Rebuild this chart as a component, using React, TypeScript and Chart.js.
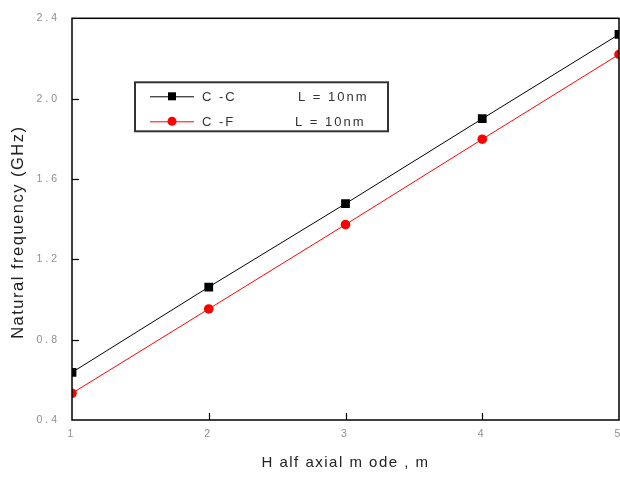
import React, { useEffect, useRef } from "react";
import { Chart, registerables } from "chart.js";

Chart.register(...registerables);

const modes = [1, 2, 3, 4, 5];
const ccFreq = [0.637, 1.062, 1.477, 1.9, 2.32];
const cfFreq = [0.533, 0.953, 1.373, 1.798, 2.22];
const seriesNames = ["C -C", "C -F"];
const lengthLabels = ["L = 10nm", "L = 10nm"];
const seriesColors = ["#000000", "#ff0000"];
const xTitle = "H alf axial m ode , m";
const yTitle = "Natural frequency (GHz)";
const yMin = 0.4;
const yMax = 2.4;
const yStep = 0.4;
const xMin = 1;
const xMax = 5;

const FONT = "'Liberation Sans', Arial, sans-serif";

const framePlugin = {
  id: "frame",
  beforeDraw(chart: any) {
    chart.ctx.letterSpacing = "3px";
  },
  afterDraw(chart: any) {
    const ctx = chart.ctx;
    const a = chart.chartArea;
    const xs = chart.scales.x;
    const ys = chart.scales.y;
    ctx.save();
    ctx.letterSpacing = "0px";
    ctx.strokeStyle = "#000";
    ctx.lineWidth = 1.5;
    ctx.strokeRect(a.left, a.top, a.right - a.left, a.bottom - a.top);
    // inward ticks
    ctx.lineWidth = 1.2;
    ys.ticks.forEach((t: any) => {
      if (t.value <= yMin + 1e-9 || t.value >= yMax - 1e-9) return;
      const y = Math.round(ys.getPixelForValue(t.value)) + 0.5;
      ctx.beginPath();
      ctx.moveTo(a.left, y);
      ctx.lineTo(a.left + 7, y);
      ctx.stroke();
    });
    xs.ticks.forEach((t: any) => {
      if (t.value <= xMin || t.value >= xMax) return;
      const x = Math.round(xs.getPixelForValue(t.value)) + 0.5;
      ctx.beginPath();
      ctx.moveTo(x, a.bottom);
      ctx.lineTo(x, a.bottom - 7);
      ctx.stroke();
    });
    // axis titles
    ctx.fillStyle = "#222";
    ctx.letterSpacing = "1.5px";
    ctx.textAlign = "center";
    ctx.textBaseline = "middle";
    ctx.font = `15px ${FONT}`;
    ctx.fillText(xTitle, (a.left + a.right) / 2, a.bottom + 43);
    ctx.save();
    ctx.translate(18, (a.top + a.bottom) / 2 + 13);
    ctx.rotate(-Math.PI / 2);
    ctx.font = `16.5px ${FONT}`;
    ctx.fillText(yTitle, 0, 0);
    ctx.restore();
    // legend
    const bx = a.left + 63;
    const by = a.top + 64;
    const bw = 253;
    const bh = 49;
    ctx.fillStyle = "#fff";
    ctx.fillRect(bx, by, bw, bh);
    ctx.strokeStyle = "#333";
    ctx.lineWidth = 2;
    ctx.strokeRect(bx, by, bw, bh);
    ctx.font = `13px ${FONT}`;
    ctx.letterSpacing = "2px";
    ctx.textBaseline = "middle";
    seriesNames.forEach((name, i) => {
      const y = by + 14 + i * 25;
      const col = seriesColors[i];
      ctx.strokeStyle = col;
      ctx.lineWidth = 1;
      ctx.beginPath();
      ctx.moveTo(bx + 15, y + 0.5);
      ctx.lineTo(bx + 59, y + 0.5);
      ctx.stroke();
      ctx.fillStyle = col;
      if (i === 0) {
        ctx.fillRect(bx + 37 - 4, y - 4, 8, 8);
      } else {
        ctx.beginPath();
        ctx.arc(bx + 37, y, 4.5, 0, Math.PI * 2);
        ctx.fill();
      }
      ctx.fillStyle = "#333";
      ctx.textAlign = "left";
      ctx.fillText(name, bx + 67, y + 1);
      ctx.fillText(lengthLabels[i], bx + 163 - (i === 1 ? 3 : 0), y + 1);
    });
    ctx.restore();
    ctx.letterSpacing = "0px";
  },
};

export default function App() {
  const ref = useRef<HTMLCanvasElement | null>(null);
  useEffect(() => {
    if (!ref.current) return;
    const chart = new Chart(ref.current, {
      type: "line",
      data: {
        datasets: [
          {
            label: seriesNames[0],
            data: modes.map((m, i) => ({ x: m, y: ccFreq[i] })),
            borderColor: seriesColors[0],
            backgroundColor: seriesColors[0],
            borderWidth: 1,
            pointStyle: "rect",
            pointRadius: 6.2,
            pointBorderWidth: 0,
            clip: 0,
          },
          {
            label: seriesNames[1],
            data: modes.map((m, i) => ({ x: m, y: cfFreq[i] })),
            borderColor: seriesColors[1],
            backgroundColor: seriesColors[1],
            borderWidth: 1,
            pointStyle: "circle",
            pointRadius: 4.8,
            pointBorderWidth: 0,
            clip: 0,
          },
        ],
      },
      options: {
        animation: false,
        responsive: false,
        maintainAspectRatio: false,
        layout: { padding: { top: 15, right: 21, left: 0, bottom: 0 } },
        plugins: { legend: { display: false }, tooltip: { enabled: false } },
        scales: {
          x: {
            type: "linear",
            min: xMin,
            max: xMax,
            grid: { display: false, drawTicks: false },
            border: { display: false },
            ticks: {
              stepSize: 1,
              color: "#8e8e96",
              font: { size: 10.5, family: FONT },
              padding: 8,
              maxRotation: 0,
            },
            title: { display: false },
            afterFit: (s: any) => {
              s.height = 58;
            },
          },
          y: {
            min: yMin,
            max: yMax,
            grid: { display: false, drawTicks: false },
            border: { display: false },
            ticks: {
              stepSize: yStep,
              color: "#8e8e96",
              font: { size: 10.5, family: FONT },
              padding: 12,
              callback: (v: any) => Number(v).toFixed(1),
            },
            title: { display: false },
            afterFit: (s: any) => {
              s.width = 72;
            },
          },
        },
      },
      plugins: [framePlugin],
    } as any);
    return () => chart.destroy();
  }, []);
  return (
    <div style={{ position: "fixed", left: 0, top: 0, width: 620, height: 478, overflow: "hidden", background: "#fff" }}>
      <canvas ref={ref} width={640} height={478} style={{ display: "block" }} />
    </div>
  );
}
